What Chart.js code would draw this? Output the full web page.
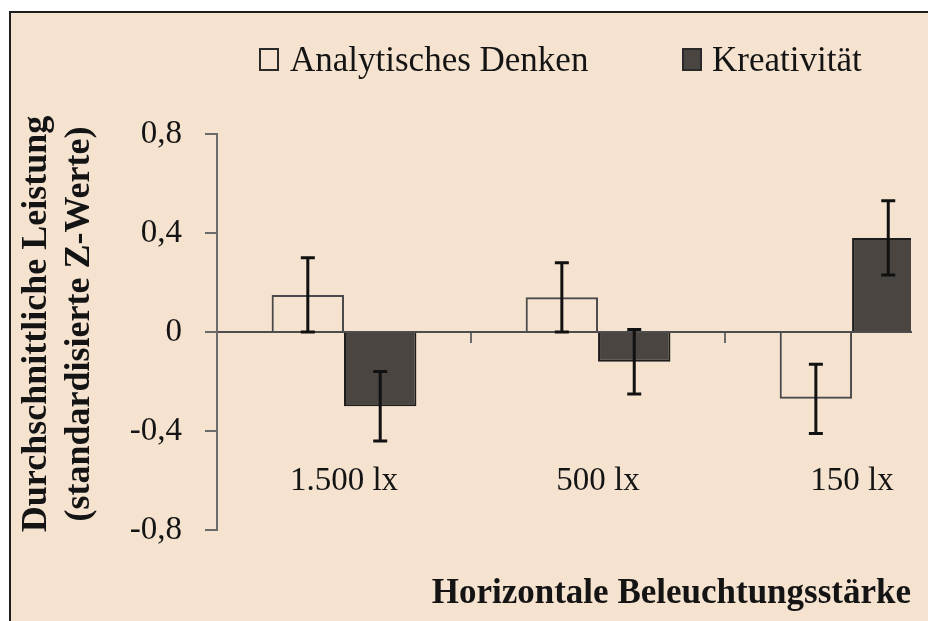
<!DOCTYPE html>
<html lang="de">
<head>
<meta charset="utf-8">
<title>Leistung nach Beleuchtungsstärke</title>
<script src="https://cdn.jsdelivr.net/npm/chart.js@4/dist/chart.umd.min.js"></script>
<style>
  html, body { margin: 0; padding: 0; background: #ffffff; overflow: hidden; }
  #frame {
    position: absolute; left: 9px; top: 11px; width: 960px; height: 660px;
    border-left: 2px solid #1e1e1e; border-top: 2px solid #1e1e1e;
    background: #f5e3d0;
  }
  #chart { position: absolute; left: 0; top: 0; }
</style>
</head>
<body>
<div id="frame"></div>
<canvas id="chart" width="928" height="621"></canvas>
<script>
// Illuminance conditions on the x axis
const categories = ['1.500 lx', '500 lx', '150 lx'];

// Mean performance (standardised z-scores) and error ranges per condition
const seriesNames = ['Analytisches Denken', 'Kreativität'];
const analyticalMeans = [0.15, 0.14, -0.27];
const analyticalErrors = [0.15, 0.14, 0.14];
const creativityMeans = [-0.30, -0.12, 0.38];
const creativityErrors = [0.14, 0.13, 0.15];

// Value axis ticks
const yTickValues = [-0.8, -0.4, 0, 0.4, 0.8];
const yTickLabels = ['-0,8', '-0,4', '0', '0,4', '0,8'];

const yTitleLines = ['Durchschnittliche Leistung', '(standardisierte Z-Werte)'];
const xTitleText = 'Horizontale Beleuchtungsstärke';

const SERIF = '"Liberation Serif", "Times New Roman", serif';
const INK = '#141414';

const toPoints = (values) => values.map((v, i) => ({ x: i + 1, y: v }));

// Error bars drawn from each bar's value and its error range
const errorBars = {
  id: 'errorBars',
  afterDatasetsDraw(chart) {
    const { ctx } = chart;
    const yScale = chart.scales.y;
    chart.data.datasets.forEach((ds, di) => {
      const meta = chart.getDatasetMeta(di);
      meta.data.forEach((bar, i) => {
        const v = ds.data[i].y;
        const e = ds.errors[i];
        const yTop = yScale.getPixelForValue(v + e);
        const yBot = yScale.getPixelForValue(v - e);
        const x = bar.x;
        ctx.save();
        ctx.strokeStyle = '#111111';
        ctx.lineWidth = 3;
        ctx.lineCap = 'butt';
        ctx.beginPath();
        ctx.moveTo(x, yTop); ctx.lineTo(x, yBot);
        ctx.moveTo(x - 7, yTop); ctx.lineTo(x + 7, yTop);
        ctx.moveTo(x - 7, yBot); ctx.lineTo(x + 7, yBot);
        ctx.stroke();
        ctx.restore();
      });
    });
  }
};

// Legend row above the plot: square swatch followed by the series name
const seriesLegend = {
  id: 'seriesLegend',
  afterDraw(chart) {
    const { ctx } = chart;
    const items = [{ box: 259, text: 290 }, { box: 682, text: 712 }];
    ctx.save();
    ctx.font = '35px ' + SERIF;
    ctx.textBaseline = 'alphabetic';
    chart.data.datasets.forEach((ds, i) => {
      const pos = items[i];
      ctx.fillStyle = ds.legendFill;
      ctx.fillRect(pos.box, 48, 20, 23);
      ctx.strokeStyle = '#2a2a2a';
      ctx.lineWidth = 2;
      ctx.strokeRect(pos.box + 1, 49, 18, 21);
      ctx.fillStyle = INK;
      ctx.fillText(ds.label, pos.text, 71);
    });
    ctx.restore();
  }
};

// Two-line value-axis title, rotated and set left of the tick labels
const valueAxisTitle = {
  id: 'valueAxisTitle',
  afterDraw(chart) {
    const { ctx } = chart;
    const centerY = (chart.chartArea.top + chart.chartArea.bottom) / 2 - 8;
    ctx.save();
    ctx.font = 'bold 36px ' + SERIF;
    ctx.fillStyle = INK;
    ctx.textAlign = 'center';
    ctx.textBaseline = 'middle';
    yTitleLines.forEach((line, i) => {
      ctx.save();
      ctx.translate(37 + i * 43, centerY);
      ctx.rotate(-Math.PI / 2);
      ctx.fillText(line, 0, 0);
      ctx.restore();
    });
    ctx.restore();
  }
};

new Chart(document.getElementById('chart'), {
  type: 'bar',
  data: {
    datasets: [
      {
        label: seriesNames[0],
        data: toPoints(analyticalMeans),
        errors: analyticalErrors,
        backgroundColor: 'rgba(0,0,0,0)',
        legendFill: 'rgba(0,0,0,0)',
        borderColor: '#4a4a4a',
        borderWidth: 2,
        clip: 0
      },
      {
        label: seriesNames[1],
        data: toPoints(creativityMeans),
        errors: creativityErrors,
        backgroundColor: '#4a4540',
        legendFill: '#4a4540',
        borderColor: '#1c1c1c',
        borderWidth: 2,
        clip: 0
      }
    ]
  },
  options: {
    responsive: false,
    animation: false,
    devicePixelRatio: 1,
    barPercentage: 1,
    categoryPercentage: 0.57,
    layout: { padding: { top: 134, left: 0, right: 17, bottom: 0 } },
    plugins: {
      legend: { display: false },
      tooltip: { enabled: false },
      title: {
        display: true,
        text: xTitleText,
        position: 'bottom',
        align: 'end',
        color: INK,
        font: { family: SERIF, size: 35, weight: 'bold', lineHeight: 1.2 },
        padding: { top: 43, bottom: 6 }
      }
    },
    scales: {
      x: {
        type: 'linear',
        position: { y: 0 },
        min: 0.5,
        max: 3.232,
        offset: false,
        afterBuildTicks(scale) {
          scale.ticks = categories.map((c, i) => ({ value: i + 1 }));
        },
        afterFit(scale) {
          scale.height = 0;
          scale.paddingLeft = 0;
          scale.paddingRight = 0;
        },
        ticks: {
          autoSkip: false,
          maxRotation: 0,
          padding: 120,
          color: INK,
          font: { family: SERIF, size: 33, lineHeight: 1.2 },
          callback: (value) => categories[Math.round(value) - 1]
        },
        grid: {
          offset: true,
          drawOnChartArea: false,
          drawTicks: true,
          tickLength: 10,
          lineWidth: 2,
          color: (ctx) => (ctx.index === 0 ? 'rgba(0,0,0,0)' : '#6a6a6a')
        },
        border: { display: true, color: '#4d4d4d', width: 2 }
      },
      y: {
        type: 'linear',
        position: 'left',
        min: -0.8,
        max: 0.8,
        afterBuildTicks(scale) {
          scale.ticks = yTickValues.map((v) => ({ value: v }));
        },
        afterFit(scale) { scale.width = 217; },
        ticks: {
          padding: 23,
          color: INK,
          font: { family: SERIF, size: 33, lineHeight: 1.2 },
          callback: (value, index) => yTickLabels[index]
        },
        grid: {
          drawOnChartArea: false,
          drawTicks: true,
          tickLength: 12,
          lineWidth: 2,
          color: '#6a6a6a'
        },
        border: { display: true, color: '#6a6a6a', width: 2 },
        title: { display: false }
      }
    }
  },
  plugins: [errorBars, seriesLegend, valueAxisTitle]
});
</script>
</body>
</html>
